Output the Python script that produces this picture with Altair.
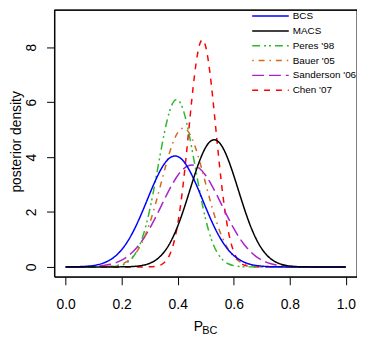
import altair as alt
import pandas as pd

# x grid (P_BC)
P_BC = [0.00, 0.02, 0.04, 0.06, 0.08, 0.10, 0.12, 0.14, 0.16, 0.18,
        0.20, 0.22, 0.24, 0.26, 0.28, 0.30, 0.32, 0.34, 0.36, 0.38,
        0.40, 0.42, 0.44, 0.46, 0.48, 0.50, 0.52, 0.54, 0.56, 0.58,
        0.60, 0.62, 0.64, 0.66, 0.68, 0.70, 0.72, 0.74, 0.76, 0.78,
        0.80, 0.82, 0.84, 0.86, 0.88, 0.90, 0.92, 0.94, 0.96, 0.98, 1.00]

BCS = [0.002, 0.003, 0.007, 0.015, 0.029, 0.053, 0.094, 0.161, 0.265, 0.416,
       0.629, 0.911, 1.267, 1.691, 2.166, 2.662, 3.139, 3.552, 3.857, 4.019,
       4.019, 3.857, 3.552, 3.139, 2.662, 2.166, 1.691, 1.267, 0.911, 0.629,
       0.416, 0.265, 0.161, 0.094, 0.053, 0.029, 0.015, 0.007, 0.003, 0.002,
       0, 0, 0, 0, 0, 0, 0, 0, 0, 0, 0]

MACS = [0, 0, 0, 0, 0, 0, 0, 0, 0, 0,
        0.003, 0.007, 0.016, 0.034, 0.069, 0.132, 0.238, 0.408, 0.662, 1.019,
        1.485, 2.052, 2.685, 3.330, 3.913, 4.358, 4.599, 4.599, 4.358, 3.913,
        3.330, 2.685, 2.052, 1.485, 1.019, 0.662, 0.408, 0.238, 0.132, 0.069,
        0.034, 0.016, 0.007, 0.003, 0, 0, 0, 0, 0, 0, 0]

PERES = [0, 0, 0, 0, 0, 0, 0, 0.003, 0.009, 0.026,
         0.068, 0.163, 0.355, 0.702, 1.265, 2.078, 3.106, 4.228, 5.242, 5.920,
         6.089, 5.703, 4.864, 3.779, 2.674, 1.723, 1.011, 0.540, 0.263, 0.117,
         0.047, 0.017, 0.006, 0.002, 0, 0, 0, 0, 0, 0,
         0, 0, 0, 0, 0, 0, 0, 0, 0, 0, 0]

BAUER = [0, 0, 0, 0, 0, 0, 0.004, 0.009, 0.022, 0.050,
         0.104, 0.205, 0.377, 0.650, 1.050, 1.593, 2.267, 3.024, 3.785, 4.443,
         4.891, 5.050, 4.891, 4.443, 3.785, 3.024, 2.267, 1.593, 1.050, 0.650,
         0.377, 0.205, 0.104, 0.050, 0.022, 0.009, 0.004, 0, 0, 0,
         0, 0, 0, 0, 0, 0, 0, 0, 0, 0, 0]

SANDERSON = [0, 0, 0, 0.005, 0.010, 0.019, 0.033, 0.058, 0.098, 0.158,
             0.248, 0.376, 0.551, 0.778, 1.063, 1.402, 1.786, 2.198, 2.613, 3.001,
             3.330, 3.568, 3.694, 3.694, 3.568, 3.330, 3.001, 2.613, 2.198, 1.786,
             1.402, 1.063, 0.778, 0.551, 0.376, 0.248, 0.158, 0.098, 0.058, 0.033,
             0.019, 0.010, 0.005, 0, 0, 0, 0, 0, 0, 0, 0]

CHEN = [0, 0, 0, 0, 0, 0, 0, 0, 0, 0,
        0, 0, 0, 0, 0.001, 0.004, 0.019, 0.074, 0.243, 0.672,
        1.561, 3.057, 5.036, 6.986, 8.157, 8.018, 6.634, 4.621, 2.709, 1.337,
        0.556, 0.194, 0.057, 0.014, 0.003, 0, 0, 0, 0, 0,
        0, 0, 0, 0, 0, 0, 0, 0, 0, 0, 0]

SERIES_NAMES = ["BCS", "MACS", "Peres '98", "Bauer '05", "Sanderson '06", "Chen '07"]
SERIES_VALUES = [BCS, MACS, PERES, BAUER, SANDERSON, CHEN]
COLORS = ["#0000FF", "#000000", "#2EB82E", "#D2691E", "#AA22CC", "#FF0000"]
DASHES = [[1, 0], [1, 0], [8, 4, 2, 3, 2, 4], [1.5, 5, 6, 5], [12, 5], [6, 6]]
DRAW_ORDER = ["Chen '07", "Sanderson '06", "Bauer '05", "Peres '98", "BCS", "MACS"]

X_TICKS = [0.0, 0.2, 0.4, 0.6, 0.8, 1.0]
Y_TICKS = [0, 2, 4, 6, 8]
Y_TITLE = "posterior density"
X_TITLE_MAIN = ["P"]
X_TITLE_SUB = ["BC"]

for v in SERIES_VALUES:
    assert len(v) == len(P_BC)

rows = []
for name, vals in zip(SERIES_NAMES, SERIES_VALUES):
    for xv, yv in zip(P_BC, vals):
        rows.append({"series": name, "p": xv, "d": yv})
df = pd.DataFrame(rows)

FONT = "Liberation Sans"
W, H = 306, 270

legend = alt.Legend(
    title=None, orient="none", legendX=199, legendY=0,
    symbolType="stroke", symbolSize=1369, symbolStrokeWidth=1.5,
    clipHeight=12.5, rowPadding=2, labelOffset=3, labelFontSize=10,
    labelFont=FONT, labelColor="black", padding=0,
)

base = alt.Chart(df).mark_line(strokeWidth=1.5, interpolate="natural").encode(
    x=alt.X("p:Q",
            scale=alt.Scale(domain=[-0.04, 1.04], nice=False, zero=False),
            axis=alt.Axis(values=X_TICKS, format=".1f", title=None, grid=False,
                          domain=False, tickSize=8, tickColor="black",
                          labelFontSize=14, labelFont=FONT, labelColor="black",
                          labelPadding=13)),
    y=alt.Y("d:Q",
            scale=alt.Scale(domain=[-0.36, 9.36], nice=False, zero=False),
            axis=alt.Axis(values=Y_TICKS, title=Y_TITLE, grid=False,
                          domain=False, tickSize=8, tickColor="black",
                          labelFontSize=14, labelFont=FONT, labelColor="black",
                          labelAngle=270, labelAlign="center", labelBaseline="bottom",
                          labelPadding=8,
                          titleFontSize=14, titleFont=FONT, titleFontWeight="normal",
                          titleColor="black", titleAngle=270, titleAlign="center",
                          titleBaseline="bottom", titleX=-31, titleY=133)),
    color=alt.Color("series:N", scale=alt.Scale(domain=SERIES_NAMES, range=COLORS),
                    legend=legend),
    strokeDash=alt.StrokeDash("series:N", scale=alt.Scale(domain=SERIES_NAMES, range=DASHES),
                              legend=legend),
)

layers = [base.transform_filter(alt.datum.series == s) for s in DRAW_ORDER]

frame = alt.Chart(pd.DataFrame({"k": [0]})).mark_rect(
    filled=False, stroke="black", strokeWidth=1
).encode(x=alt.value(0), x2=alt.value(W), y=alt.value(0), y2=alt.value(H))

p_text = alt.Chart(pd.DataFrame({"t": X_TITLE_MAIN})).mark_text(
    font=FONT, fontSize=14, align="left", baseline="alphabetic", color="black"
).encode(x=alt.value(141), y=alt.value(324.5), text="t:N")

bc_text = alt.Chart(pd.DataFrame({"t": X_TITLE_SUB})).mark_text(
    font=FONT, fontSize=11, align="left", baseline="alphabetic", color="black"
).encode(x=alt.value(149.5), y=alt.value(327.5), text="t:N")

chart = alt.layer(frame, *layers, p_text, bc_text).properties(
    width=W, height=H,
    autosize=alt.AutoSizeParams(type="none"),
    padding={"left": 47, "top": 0, "right": 0, "bottom": 61},
    background="white",
).configure_view(stroke="black", strokeWidth=1)

chart.save("out.html", embed_options={"renderer": "svg", "actions": False})
